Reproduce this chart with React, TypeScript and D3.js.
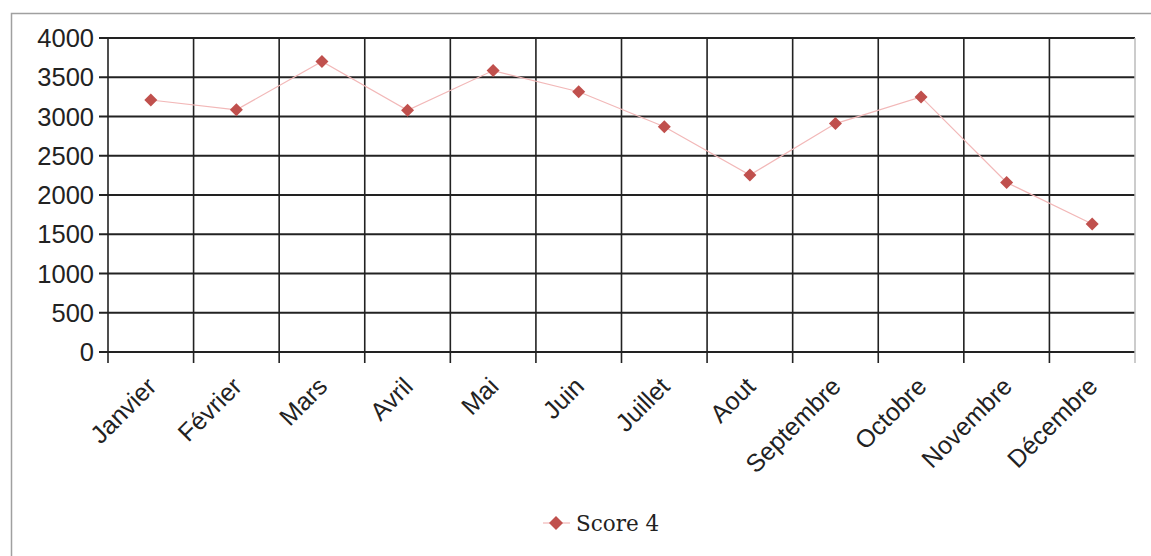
import React from "react";
import * as d3 from "d3";

const months = ["Janvier", "Février", "Mars", "Avril", "Mai", "Juin", "Juillet", "Aout", "Septembre", "Octobre", "Novembre", "Décembre"];
const score4 = [3210, 3085, 3700, 3080, 3585, 3315, 2870, 2255, 2910, 3250, 2160, 1630];
const yTicks = [0, 500, 1000, 1500, 2000, 2500, 3000, 3500, 4000];
const seriesName = "Score 4";

const W = 1151, H = 556;
const left = 108, right = 1135, top = 38, bottom = 352;

export default function App() {
  const x = d3.scaleBand<string>().domain(months).range([left, right]).padding(0);
  const y = d3.scaleLinear().domain([0, 4000]).range([bottom, top]);
  const bw = x.bandwidth();
  const line = d3.line<number>().x((_, i) => x(months[i])! + bw / 2).y((d) => y(d));
  const diamond = (cx: number, cy: number, r: number) => `M${cx},${cy - r}L${cx + r},${cy}L${cx},${cy + r}L${cx - r},${cy}Z`;
  const boundaries = months.map((m) => x(m)!).concat([right]);
  const font = "'Liberation Sans', Arial, sans-serif";
  return (
    <svg width={W} height={H} style={{ position: "absolute", left: 0, top: 0, background: "#fff" }}>
      <path d={`M11.5,${H}V13.5H${W}`} fill="none" stroke="#a0a0a0" strokeWidth={1.5} />
      {yTicks.map((t) => (
        <line key={"h" + t} x1={left - 9} x2={right} y1={y(t)} y2={y(t)} stroke="#222" strokeWidth={1.8} />
      ))}
      {boundaries.map((b, i) => (
        <line key={"v" + i} x1={b} x2={b} y1={top} y2={bottom + 11}
          stroke={i === boundaries.length - 1 ? "#bbb" : "#222"} strokeWidth={i === boundaries.length - 1 ? 1.5 : 1.6} />
      ))}
      {yTicks.map((t) => (
        <text key={"yl" + t} x={94} y={y(t)} dy="0.36em" textAnchor="end" fontFamily={font} fontSize={25.5} fill="#222">{t}</text>
      ))}
      {months.map((m) => {
        const cx = x(m)! + bw / 2 + 7;
        const cy = bottom + 36;
        return (
          <text key={"xl" + m} x={cx} y={cy} textAnchor="end" fontFamily={font} fontSize={25} fill="#222"
            transform={`rotate(-45 ${cx} ${cy})`}>{m}</text>
        );
      })}
      <path d={line(score4)!} fill="none" stroke="#f2b8b8" strokeWidth={1.2} />
      {score4.map((v, i) => (
        <path key={"p" + i} d={diamond(x(months[i])! + bw / 2, y(v), 6.5)} fill="#c0504d" />
      ))}
      <line x1={543} x2={570} y1={523} y2={523} stroke="#f2b8b8" strokeWidth={1.2} />
      <path d={diamond(556, 523, 7)} fill="#c0504d" />
      <text x={576} y={523} dy="0.35em" fontFamily="'DejaVu Serif', serif" fontSize={21.5} fill="#222">{seriesName}</text>
    </svg>
  );
}
